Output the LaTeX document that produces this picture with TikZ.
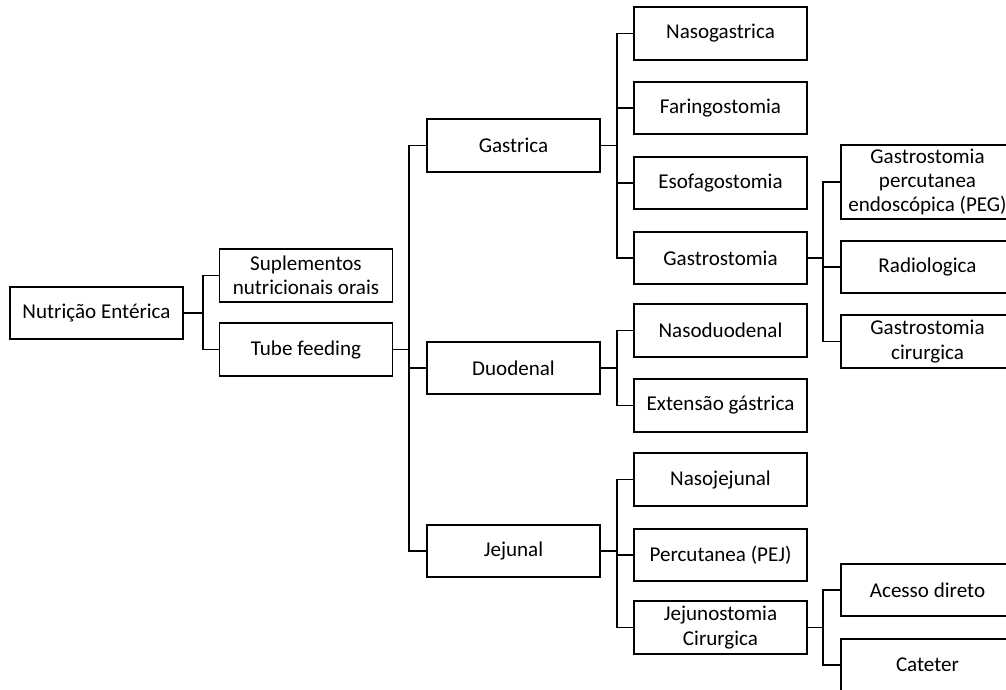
\documentclass[tikz,border=0pt]{standalone}
\usepackage{fontspec}
\setmainfont{Carlito}
\usepackage{tikz}

\tikzset{
  box/.style={draw, line width=1.4pt, minimum width=129.75pt, minimum height=39.5pt,
    inner sep=1pt, align=center, font=\fontsize{15.8}{18.3}\selectfont},
  link/.style={line width=1.4pt}
}

\begin{document}
\begin{tikzpicture}[x=0.75pt, y=-0.75pt]
  \clip (0,0) rectangle (1006,689);

  \node[box] (root) at (96.5,313) {Nutrição Entérica};
  \node[box] (sup) at (306,275.5) {Suplementos\\nutricionais orais};
  \node[box] (tube) at (306,349.5) {Tube feeding};

  \node[box] (gas) at (513.5,145.5) {Gastrica};
  \node[box] (duo) at (513.5,368) {Duodenal};
  \node[box] (jej) at (513.5,551) {Jejunal};

  \node[box] (nasog) at (720.5,33.5) {Nasogastrica};
  \node[box] (far) at (720.5,108) {Faringostomia};
  \node[box] (eso) at (720.5,183) {Esofagostomia};
  \node[box] (gtt) at (720.5,258) {Gastrostomia};
  \node[box] (nasod) at (720.5,330.5) {Nasoduodenal};
  \node[box] (ext) at (720.5,405.5) {Extensão gástrica};
  \node[box] (nasoj) at (720.5,479.5) {Nasojejunal};
  \node[box] (pej) at (720.5,555) {Percutanea (PEJ)};
  \node[box] (jcir) at (720.5,627.5) {Jejunostomia\\Cirurgica};

  \node[box, minimum height=55pt] (peg) at (927.5,182) {Gastrostomia\\percutanea\\endoscópica (PEG)};
  \node[box] (rad) at (927.5,267) {Radiologica};
  \node[box] (gcir) at (927.5,341.5) {Gastrostomia\\cirurgica};
  \node[box] (aces) at (927.5,590) {Acesso direto};
  \node[box] (cat) at (927.5,665) {Cateter};

  \coordinate (j1) at (203,0);
  \coordinate (j2) at (409,0);
  \coordinate (j3) at (617,0);
  \coordinate (j4) at (823,0);

  \draw[link] (root.east) -- (root.east -| j1);
  \draw[link] (sup.west) -- (sup.west -| j1) -- (tube.west -| j1) -- (tube.west);

  \draw[link] (tube.east) -- (tube.east -| j2);
  \draw[link] (gas.west) -- (gas.west -| j2) -- (jej.west -| j2) -- (jej.west);
  \draw[link] (duo.west) -- (duo.west -| j2);

  \draw[link] (gas.east) -- (gas.east -| j3);
  \draw[link] (nasog.west) -- (nasog.west -| j3) -- (gtt.west -| j3) -- (gtt.west);
  \foreach \c in {far,eso}
    \draw[link] (\c.west) -- (\c.west -| j3);

  \draw[link] (duo.east) -- (duo.east -| j3);
  \draw[link] (nasod.west) -- (nasod.west -| j3) -- (ext.west -| j3) -- (ext.west);

  \draw[link] (jej.east) -- (jej.east -| j3);
  \draw[link] (nasoj.west) -- (nasoj.west -| j3) -- (jcir.west -| j3) -- (jcir.west);
  \draw[link] (pej.west) -- (pej.west -| j3);

  \draw[link] (gtt.east) -- (gtt.east -| j4);
  \draw[link] (peg.west) -- (peg.west -| j4) -- (gcir.west -| j4) -- (gcir.west);
  \draw[link] (rad.west) -- (rad.west -| j4);

  \draw[link] (jcir.east) -- (jcir.east -| j4);
  \draw[link] (aces.west) -- (aces.west -| j4) -- (cat.west -| j4) -- (cat.west);
\end{tikzpicture}
\end{document}
